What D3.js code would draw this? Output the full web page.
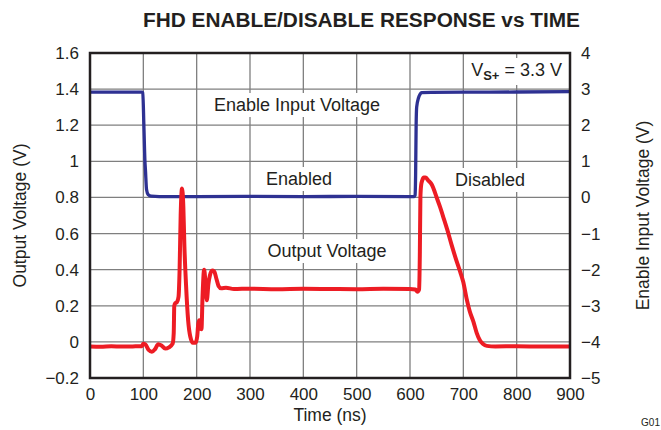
<!DOCTYPE html>
<html>
<head>
<meta charset="utf-8">
<script src="https://cdn.jsdelivr.net/npm/d3@7"></script>
<style>
  html, body { margin: 0; padding: 0; background: #fff; }
  svg text { font-family: "Liberation Sans", Arial, Helvetica, sans-serif; fill: #231f20; }
</style>
</head>
<body>
<svg id="chart" width="661" height="430"></svg>
<script>
// Time axis ticks (ns)
const timeTicks = [0, 100, 200, 300, 400, 500, 600, 700, 800, 900];
// Left axis: output voltage (V)
const outTicks = [-0.2, 0, 0.2, 0.4, 0.6, 0.8, 1.0, 1.2, 1.4, 1.6];
const outTickLabels = ["\u22120.2", "0", "0.2", "0.4", "0.6", "0.8", "1", "1.2", "1.4", "1.6"];
// Right axis: enable input voltage (V)
const enTicks = [-5, -4, -3, -2, -1, 0, 1, 2, 3, 4];
const enTickLabels = ["\u22125", "\u22124", "\u22123", "\u22122", "\u22121", "0", "1", "2", "3", "4"];

// Output voltage trace
const outTime = [0, 20, 40, 60, 80, 97, 100, 104, 110, 116, 122, 128, 134, 141, 148, 155,
  157, 158, 160, 163, 166, 168, 170, 172.5, 175, 177, 180, 184, 188, 193, 198,
  201, 203, 205, 207, 209, 211, 214, 216.5, 219, 222, 225, 229, 233, 237, 241, 246,
  255, 270, 300, 350, 400, 450, 500, 550, 600, 610, 614, 617, 618.5, 619.5, 621, 623,
  626, 629, 634, 641, 650, 656, 663, 670, 678, 686, 694, 700, 706, 712, 719, 725,
  731, 737, 744, 760, 800, 850, 900];
const outVolt = [-0.025, -0.027, -0.024, -0.026, -0.025, -0.024, -0.01, -0.015, -0.045, -0.055, -0.04, -0.013, -0.02, -0.037, -0.03, -0.01,
  0.05, 0.2, 0.215, 0.22, 0.25, 0.4, 0.7, 0.85, 0.75, 0.53, 0.32, 0.12, 0.03, -0.005, -0.005,
  0.03, 0.1, 0.12, 0.08, 0.07, 0.25, 0.4, 0.33, 0.23, 0.32, 0.37, 0.395, 0.39, 0.35, 0.31, 0.297,
  0.3, 0.293, 0.295, 0.292, 0.294, 0.293, 0.292, 0.294, 0.293, 0.29, 0.278, 0.29, 0.5, 0.8, 0.87, 0.895,
  0.91, 0.91, 0.895, 0.87, 0.8, 0.75, 0.686, 0.62, 0.537, 0.46, 0.389, 0.33, 0.241, 0.17, 0.111, 0.05,
  0.009, -0.012, -0.022, -0.025, -0.024, -0.026, -0.025];

// Enable input trace
const enTime = [0, 50, 97, 99, 101, 103, 104, 106, 109, 115, 130, 200, 300, 400, 500, 600, 608,
  609.5, 610.5, 611.5, 612.5, 616, 619, 622, 640, 700, 800, 900];
const enVolt = [2.915, 2.915, 2.915, 2.9, 2.0, 1.0, 0.75, 0.22, 0.08, 0.035, 0.025, 0.025, 0.028, 0.025, 0.027, 0.025, 0.025,
  0.06, 0.6, 2.0, 2.5, 2.76, 2.86, 2.9, 2.91, 2.915, 2.92, 2.93];

const svg = d3.select("#chart");
const plotL = 90, plotR = 570, plotT = 53, plotB = 378;

const x = d3.scaleLinear().domain([0, 900]).range([plotL, plotR]);
const yOut = d3.scaleLinear().domain([-0.2, 1.6]).range([plotB, plotT]);
const yEn = d3.scaleLinear().domain([-5, 4]).range([plotB, plotT]);

// Title
svg.append("text")
  .attr("x", 580).attr("y", 27)
  .attr("text-anchor", "end")
  .attr("font-size", 20).attr("font-weight", "bold")
  .attr("textLength", 437).attr("lengthAdjust", "spacingAndGlyphs")
  .text("FHD ENABLE/DISABLE RESPONSE vs TIME");

// Grid
const grid = svg.append("g").attr("stroke", "#7f7f7f").attr("stroke-width", 1.3);
grid.selectAll("line.v").data(timeTicks.slice(1, -1)).join("line")
  .attr("class", "v")
  .attr("x1", d => x(d)).attr("x2", d => x(d)).attr("y1", plotT).attr("y2", plotB);
grid.selectAll("line.h").data(outTicks.slice(1, -1)).join("line")
  .attr("class", "h")
  .attr("x1", plotL).attr("x2", plotR).attr("y1", d => yOut(d)).attr("y2", d => yOut(d));

// Axes (labels only; the frame is drawn separately)
const tickFs = 17, labelFs = 17.5, noteFs = 18;
const axL = svg.append("g").attr("transform", `translate(${plotL},0)`)
  .call(d3.axisLeft(yOut).tickValues(outTicks).tickSize(0).tickPadding(11)
    .tickFormat((d, i) => outTickLabels[i]));
const axR = svg.append("g").attr("transform", `translate(${plotR},0)`)
  .call(d3.axisRight(yEn).tickValues(enTicks).tickSize(0).tickPadding(11)
    .tickFormat((d, i) => enTickLabels[i]));
const axB = svg.append("g").attr("transform", `translate(0,${plotB})`)
  .call(d3.axisBottom(x).tickValues(timeTicks).tickSize(0).tickPadding(10)
    .tickFormat(d => String(d)));
[axL, axR, axB].forEach(g => {
  g.attr("font-family", null).attr("font-size", null);
  g.select(".domain").remove();
  g.selectAll("text").attr("font-size", tickFs).style("fill", "#231f20");
});

// Axis titles
svg.append("text")
  .attr("transform", `translate(26,${(plotT + plotB) / 2}) rotate(-90)`)
  .attr("text-anchor", "middle").attr("font-size", labelFs)
  .text("Output Voltage (V)");
svg.append("text")
  .attr("transform", `translate(649,${(plotT + plotB) / 2}) rotate(-90)`)
  .attr("text-anchor", "middle").attr("font-size", labelFs)
  .text("Enable Input Voltage (V)");
svg.append("text")
  .attr("x", (plotL + plotR) / 2).attr("y", 421)
  .attr("text-anchor", "middle").attr("font-size", labelFs)
  .text("Time (ns)");

// Annotations with white backing that hides the grid behind them
function note(tx, ty, build, anchor = "middle") {
  const g = svg.append("g");
  const bg = g.append("rect").attr("fill", "#fff");
  const t = g.append("text").attr("x", tx).attr("y", ty)
    .attr("text-anchor", anchor).attr("font-size", noteFs);
  build(t);
  const b = t.node().getBBox();
  bg.attr("x", b.x - 5).attr("y", b.y - 2).attr("width", b.width + 10).attr("height", b.height + 4);
}
note(297, 111, t => t.text("Enable Input Voltage"));
note(299, 185, t => t.text("Enabled"));
note(327, 257, t => t.text("Output Voltage"));
note(490, 186, t => t.text("Disabled"));
note(562, 76, t => {
  t.append("tspan").text("V");
  t.append("tspan").attr("font-size", 13).attr("font-weight", "bold").attr("dy", 4).text("S+");
  t.append("tspan").attr("dy", -4).text(" = 3.3 V");
}, "end");

// Traces
const lineOut = d3.line().x((d, i) => x(outTime[i])).y(d => yOut(d)).curve(d3.curveMonotoneX);
const lineEn = d3.line().x((d, i) => x(enTime[i])).y(d => yEn(d)).curve(d3.curveMonotoneX);

svg.append("path").datum(enVolt)
  .attr("fill", "none").attr("stroke", "#2e3192").attr("stroke-width", 3.3)
  .attr("stroke-linejoin", "round").attr("d", lineEn);
svg.append("path").datum(outVolt)
  .attr("fill", "none").attr("stroke", "#ed1c24").attr("stroke-width", 4)
  .attr("stroke-linejoin", "round").attr("d", lineOut);

// Frame
svg.append("rect")
  .attr("x", plotL).attr("y", plotT).attr("width", plotR - plotL).attr("height", plotB - plotT)
  .attr("fill", "none").attr("stroke", "#231f20").attr("stroke-width", 2.5);

// Figure id
svg.append("text").attr("x", 660).attr("y", 426).attr("text-anchor", "end")
  .attr("font-size", 10).text("G01");
</script>
</body>
</html>
